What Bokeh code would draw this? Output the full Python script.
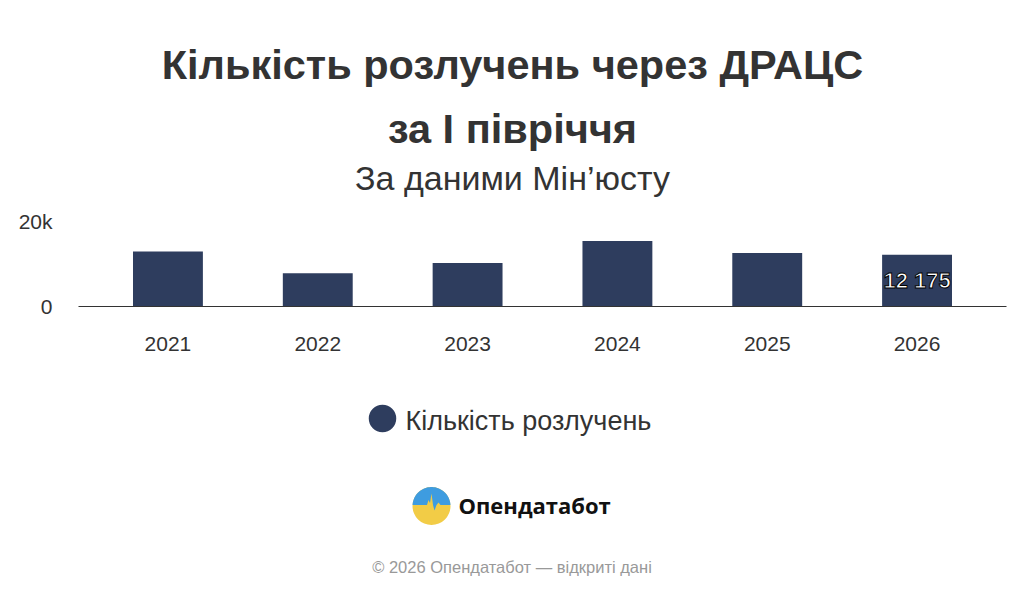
import numpy as np
from bokeh.plotting import figure
from bokeh.models import (FactorRange, Range1d, FixedTicker,
                          NumeralTickFormatter, ColumnDataSource)
from bokeh.layouts import column
from bokeh.core.properties import value
from bokeh.embed import file_html
from bokeh.resources import INLINE

# ---- data ----
years = ["2021", "2022", "2023", "2024", "2025", "2026"]
divorces = [12950, 7800, 10230, 15400, 12580, 12175]
label_years = ["2026"]
label_values = [12175]
label_texts = ["12 175"]
y_ticks = [0, 20000]

title_line1 = "Кількість розлучень через ДРАЦС"
title_line2 = "за І півріччя"
subtitle = "За даними Мін’юсту"
series_name = "Кількість розлучень"
brand = "Опендатабот"
credits = "© 2026 Опендатабот — відкриті дані"

FONT = "Liberation Sans"
BAR = "#2E3D5E"
TXT = "#333333"
W = 1008
FL, FR = 78, 1006  # frame left/right on the page


def blank(height, top):
    f = figure(width=W, height=height, x_range=Range1d(FL, FR),
               y_range=Range1d(top + height, top),
               output_backend="svg", toolbar_location=None, min_border=0,
               x_axis_type=None, y_axis_type=None)
    f.outline_line_color = None
    f.background_fill_color = "white"
    f.border_fill_color = "white"
    f.xgrid.visible = False
    f.ygrid.visible = False
    return f


def txt(f, x, y, s, size, bold=False, color=TXT, align="center", font=FONT):
    f.text(x=[x], y=[y], text=[s], text_font=value(font),
           text_font_style="bold" if bold else "normal",
           text_font_size=size, text_color=color,
           text_align=align, text_baseline="middle")


# ---- header ----
t = blank(200, 0)
txt(t, 512, 64, title_line1, "41.5px", bold=True)
txt(t, 512, 127.5, title_line2, "41.5px", bold=True)
txt(t, 512, 177.5, subtitle, "34px")

# ---- main chart ----
p = figure(width=W, height=190,
           x_range=FactorRange(factors=years, range_padding=0.097,
                               range_padding_units="absolute"),
           y_range=Range1d(0, 20000),
           output_backend="svg", toolbar_location=None,
           min_border_left=FL, min_border_right=W - FR,
           min_border_top=21, min_border_bottom=84)
p.outline_line_color = None
p.background_fill_color = "white"
p.border_fill_color = "white"

src = ColumnDataSource(dict(year=years, n=divorces))
p.vbar(x="year", top="n", width=0.4665, source=src,
       fill_color=BAR, line_color=None)

lsrc = ColumnDataSource(dict(year=label_years,
                             y=[v / 2 for v in label_values],
                             t=label_texts))
p.text(x="year", y="y", text="t", source=lsrc,
       text_font=value(FONT), text_font_style="bold",
       text_font_size="22px", text_color="white",
       text_align="center", text_baseline="middle",
       text_outline_color="#000000")

p.xgrid.grid_line_color = None
p.ygrid.grid_line_color = "#e6e6e6"
p.ygrid.ticker = FixedTicker(ticks=y_ticks)

p.yaxis.ticker = FixedTicker(ticks=y_ticks)
p.yaxis.formatter = NumeralTickFormatter(format="0a")
p.yaxis.axis_line_color = None
p.yaxis.major_tick_line_color = None
p.yaxis.minor_tick_line_color = None
p.yaxis.major_tick_out = 0
p.yaxis.major_tick_in = 0
p.yaxis.major_label_standoff = 26
p.yaxis.major_label_text_font = FONT
p.yaxis.major_label_text_font_size = "21px"
p.yaxis.major_label_text_color = TXT

p.xaxis.axis_line_color = "#333333"
p.xaxis.axis_line_width = 1
p.xaxis.major_tick_line_color = None
p.xaxis.minor_tick_line_color = None
p.xaxis.major_tick_out = 0
p.xaxis.major_tick_in = 0
p.xaxis.major_label_standoff = 30
p.xaxis.major_label_text_font = FONT
p.xaxis.major_label_text_font_size = "21px"
p.xaxis.major_label_text_color = TXT

# ---- bottom: legend, logo, credits ----
q = blank(200, 390)

# legend
q.scatter(x=[382], y=[418], size=27.5, marker="circle", fill_color=BAR, line_color=None)
txt(q, 405, 420.5, series_name, "27px", align="left")

# logo
cx, cy, r = 431, 505.5, 19
q.scatter(x=[cx], y=[cy], size=2 * r, marker="circle", fill_color="#F2CC46", line_color=None)
a0 = np.arcsin(1.0 / r)
ang = np.linspace(np.pi - a0, a0, 40)
arc_x = list(cx + r * np.cos(ang))
arc_y = list(cy - r * np.sin(ang))
wave = [(9, -1), (7, -3.5), (5, -1), (3, 4.5), (1.5, -1), (0, -12.5),
        (-1.5, -3), (-3, -6), (-4.5, -1)]
px = arc_x + [cx + dx for dx, _ in wave]
py = arc_y + [cy + dy for _, dy in wave]
q.patch(x=px, y=py, fill_color="#3E9CE0", line_color=None)
txt(q, 458, 504.5, brand, "22px", bold=True, color="#111111", align="left",
    font="Open Sans")

# credits
txt(q, 511.5, 566.3, credits, "16.5px", color="#999999")

layout = column(t, p, q)
open("out.html", "w").write(file_html(layout, INLINE))
